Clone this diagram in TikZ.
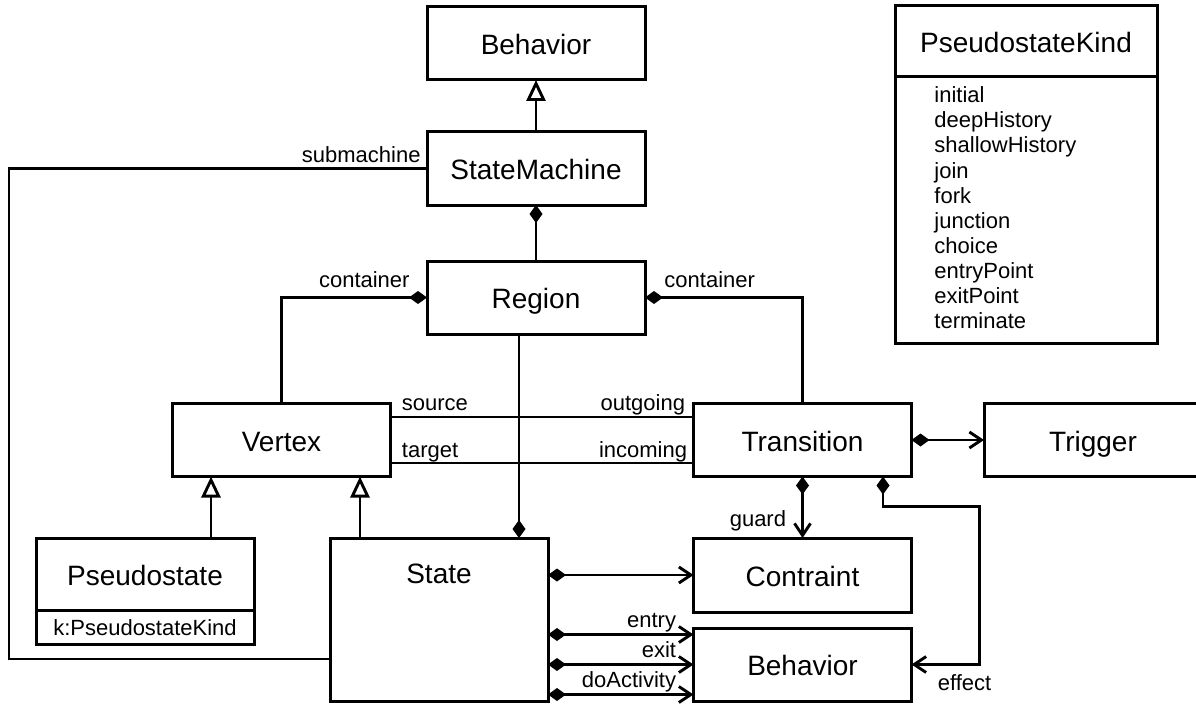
\documentclass[tikz,border=0pt]{standalone}
\usepackage{fontspec}
\setmainfont{Liberation Sans}
\usetikzlibrary{arrows.meta,positioning}
\begin{document}
\begin{tikzpicture}[x=1pt,y=-1pt,line width=2.9pt,
  title/.style={font=\fontsize{28}{32}\selectfont},
  box/.style={title,draw,line width=3pt,outer sep=0pt,minimum width=218pt,minimum height=73pt,text height=24pt,text depth=2pt},
  lbl/.style={font=\fontsize{22}{25}\selectfont,inner sep=0pt},
  gen/.style={-{Triangle[open,length=21pt,width=19pt]}},
  comp/.style={{Diamond[length=18pt,width=13pt]}-},
  compnav/.style={{Diamond[length=18pt,width=13pt]}-{Straight Barb[length=12pt,width=16pt]}}]
\useasboundingbox (0,0) rectangle (1196,706);
\node[box] (beh) at (536,43.5) {Behavior};
\node[box] (sm) at (536,168.5) {StateMachine};
\node[box] (reg) at (536,297.5) {Region};
\node[box] (vtx) at (281.5,440) {Vertex};
\node[box] (trans) at (802.5,440) {Transition};
\node[box] (trig) at (1093,440) {Trigger};
\node[box,minimum height=72pt] (pseudo) at (145,574) {Pseudostate};
\node[box,lbl,minimum height=34pt,text height=18pt,anchor=north] (pattr) at (pseudo.south) {k:PseudostateKind};
\node[box,minimum height=163pt] (state) at (439,619.5) {};
\node[title] (statename) at (439,574) {State};
\node[box,minimum height=74pt] (contr) at (802.5,575) {Contraint};
\node[box] (beh2) at (802.5,664.5) {Behavior};
\node[box,minimum width=262pt,minimum height=71pt] (pkind) at (1026,41.5) {PseudostateKind};
\node[box,minimum width=262pt,minimum height=266pt,anchor=north] (pklist) at (pkind.south) {};
\foreach \k [count=\i from 0] in {initial,deepHistory,shallowHistory,join,fork,junction,choice,entryPoint,exitPoint,terminate}
    \node[lbl,anchor=base west] (kind\i) at (933,103+25*\i) {\k};

\draw[gen] (sm) -- (beh);
\draw[comp] (sm) -- (reg);
\coordinate (smcorner) at (9,659);
\draw (sm.west) -| (smcorner) -- (smcorner -| state.west);
\node[lbl,anchor=base east] (submlbl) at ([xshift=-5pt,yshift=6.5pt]sm.west) {submachine};
\draw[comp] (reg.west) -| (vtx.north);
\draw[comp] (reg.east) -| (trans.north);
\node[lbl,anchor=base east] (contlbl) at ([xshift=-16pt,yshift=10.5pt]reg.west) {container};
\node[lbl,anchor=base west] (contrlbl) at ([xshift=18pt,yshift=10.5pt]reg.east) {container};
\coordinate (rs) at ([xshift=-17pt]reg.south);
\draw[comp] (rs |- state.north) -- (rs);
\coordinate (pg) at ([xshift=66pt]pseudo.north);
\draw[gen] (pg) -- (pg |- vtx.south);
\coordinate (sg) at ([xshift=-79pt]state.north);
\draw[gen] (sg) -- (sg |- vtx.south);
\coordinate (src) at ([yshift=23pt]vtx.east);
\draw (src) -- (src -| trans.west)
    node[lbl,pos=0,anchor=base west,xshift=10pt,yshift=7pt] (srclbl) {source}
    node[lbl,pos=1,anchor=base east,xshift=-7pt,yshift=7pt] (outlbl) {outgoing};
\coordinate (tgt) at ([yshift=-23pt]vtx.east);
\draw (tgt) -- (tgt -| trans.west)
    node[lbl,pos=0,anchor=base west,xshift=10pt,yshift=6pt] (tgtlbl) {target}
    node[lbl,pos=1,anchor=base east,xshift=-5pt,yshift=6pt] (inlbl) {incoming};
\draw[compnav] (trans) -- (trig);
\draw[compnav] (trans) -- (contr)
    node[lbl,pos=.82,anchor=base east,xshift=-15pt] (guardlbl) {guard};
\coordinate (ef) at ([xshift=80.5pt]trans.south);
\draw[compnav] (ef) -- ++(0,30) -| ([xshift=68pt]beh2.east) -- (beh2.east);
\node[lbl,anchor=base] (eflbl) at ([xshift=53pt,yshift=-25.5pt]beh2.east) {effect};
\draw[compnav] (state.east |- contr.west) -- (contr.west);
\foreach \dy/\name in {30/entry,0/exit,-30/doActivity}
{
    \coordinate (bw) at ([yshift=\dy pt]beh2.west);
    \draw[compnav] (bw -| state.east) -- (bw)
        node[lbl,pos=1,anchor=base east,xshift=-16pt,yshift=7pt] (\name lbl) {\name};
}
\end{tikzpicture}
\end{document}
